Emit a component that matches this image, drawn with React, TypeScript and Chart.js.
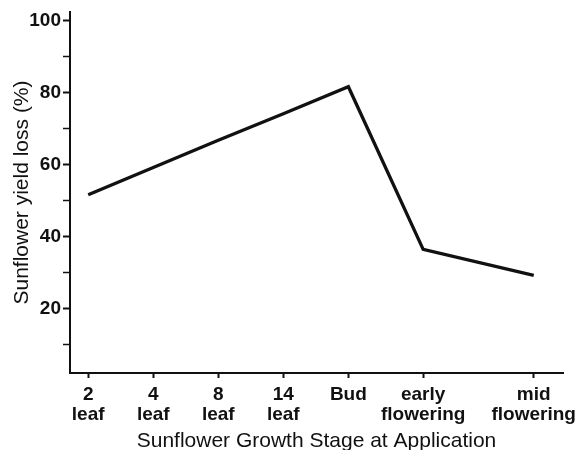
import React, { useEffect, useRef } from "react";
import { Chart, registerables } from "chart.js";

Chart.register(...registerables);

const stageLabels: string[][] = [
  ["2", "leaf"],
  ["4", "leaf"],
  ["8", "leaf"],
  ["14", "leaf"],
  ["Bud"],
  ["early", "flowering"],
  ["mid", "flowering"],
];
const stagePositions: number[] = [0, 1, 2, 3, 4, 5.15, 6.85];
const yieldLoss: number[] = [51.6, 59.2, 66.8, 74.2, 81.7, 36.4, 29.2];
const yTickValues: number[] = [10, 20, 30, 40, 50, 60, 70, 80, 90, 100];
const yLabelStep = 20;

export default function App() {
  const ref = useRef<HTMLCanvasElement | null>(null);

  useEffect(() => {
    if (!ref.current) return;
    const ink = "#111111";
    const chart = new Chart(ref.current, {
      type: "line",
      data: {
        datasets: [
          {
            data: stagePositions.map((x, i) => ({ x, y: yieldLoss[i] })),
            borderColor: ink,
            borderWidth: 3.3,
            pointRadius: 0,
            tension: 0,
            fill: false,
          },
        ],
      },
      options: {
        animation: false,
        responsive: false,
        layout: { padding: { top: 12, right: 15, left: 0, bottom: 0 } },
        plugins: { legend: { display: false }, tooltip: { enabled: false } },
        scales: {
          x: {
            type: "linear",
            min: -0.28,
            max: 7.3,
            afterBuildTicks: (scale: any) => {
              scale.ticks = stagePositions.map((v) => ({ value: v }));
            },
            afterFit: (scale: any) => {
              scale.height = 77;
              scale.paddingLeft = 0;
              scale.paddingRight = 0;
            },
            ticks: {
              autoSkip: false,
              maxRotation: 0,
              minRotation: 0,
              padding: 7,
              color: ink,
              font: { family: "Liberation Sans", size: 19, weight: "bold", lineHeight: 1.05 },
              callback: (value: any) => {
                const i = stagePositions.indexOf(Number(value));
                return i >= 0 ? stageLabels[i] : "";
              },
            },
            grid: {
              drawOnChartArea: false,
              drawTicks: true,
              tickLength: 5,
              tickColor: ink,
              tickWidth: 2,
            },
            border: { display: true, color: ink, width: 2 },
            title: {
              display: true,
              text: "Sunflower Growth Stage at Application",
              color: ink,
              font: { family: "Liberation Sans", size: 21, weight: "normal", lineHeight: 0.85 },
              padding: { top: 2, bottom: 0 },
            },
          },
          y: {
            type: "linear",
            min: 2,
            max: 102.5,
            afterBuildTicks: (scale: any) => {
              scale.ticks = yTickValues.map((v) => ({ value: v }));
            },
            afterFit: (scale: any) => {
              scale.width = 70;
              scale.paddingTop = 0;
              scale.paddingBottom = 0;
            },
            ticks: {
              autoSkip: false,
              padding: 2,
              color: ink,
              font: { family: "Liberation Sans", size: 19, weight: "bold" },
              callback: (value: any) => (Number(value) % yLabelStep === 0 ? String(value) : ""),
            },
            grid: {
              drawOnChartArea: false,
              drawTicks: true,
              tickLength: 7,
              tickColor: ink,
              tickWidth: (ctx: any) => (ctx.tick && ctx.tick.value % yLabelStep === 0 ? 2 : 1.5),
            },
            border: { display: true, color: ink, width: 2 },
            title: {
              display: true,
              text: "Sunflower yield loss (%)",
              color: ink,
              font: { family: "Liberation Sans", size: 21, weight: "normal" },
              padding: { top: 10, bottom: 0 },
            },
          },
        },
      },
    } as any);
    return () => chart.destroy();
  }, []);

  return (
    <div style={{ position: "fixed", left: 0, top: 0, width: 578, height: 450, background: "#fff" }}>
      <canvas ref={ref} width={578} height={450} style={{ width: 578, height: 450, display: "block" }} />
    </div>
  );
}
